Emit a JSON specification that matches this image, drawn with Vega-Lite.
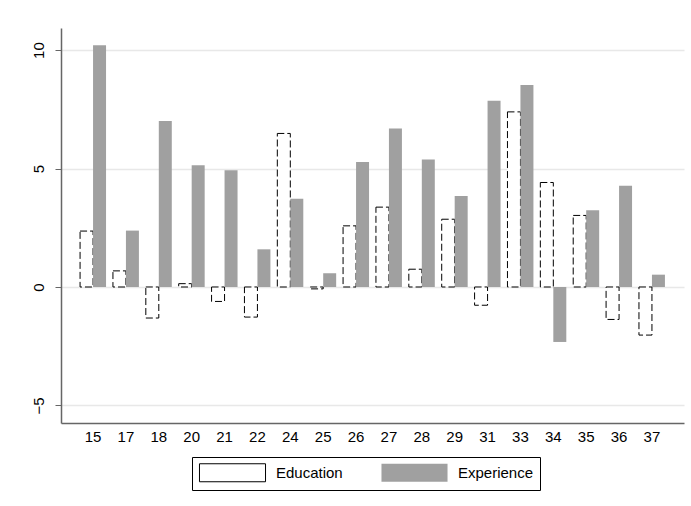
{
  "$schema": "https://vega.github.io/schema/vega-lite/v6.json",
  "width": 623,
  "height": 395,
  "autosize": {"type": "none"},
  "padding": {"left": 61, "top": 28, "right": 7, "bottom": 83},
  "background": "white",
  "config": {
    "font": "Liberation Sans",
    "view": {"stroke": null},
    "axis": {"labelFont": "Liberation Sans", "labelFontSize": 15, "labelColor": "black", "domainColor": "#666666", "tickColor": "#666666", "domainWidth": 1.5, "gridColor": "#e8e8e8", "gridWidth": 1.5, "title": null}
  },
  "data": {
    "values": [
      {"age": "15", "series": "Education", "value": 2.36},
      {"age": "15", "series": "Experience", "value": 10.2},
      {"age": "17", "series": "Education", "value": 0.68},
      {"age": "17", "series": "Experience", "value": 2.38},
      {"age": "18", "series": "Education", "value": -1.31},
      {"age": "18", "series": "Experience", "value": 7.0},
      {"age": "20", "series": "Education", "value": 0.14},
      {"age": "20", "series": "Experience", "value": 5.14},
      {"age": "21", "series": "Education", "value": -0.61},
      {"age": "21", "series": "Experience", "value": 4.93},
      {"age": "22", "series": "Education", "value": -1.27},
      {"age": "22", "series": "Experience", "value": 1.59},
      {"age": "24", "series": "Education", "value": 6.48},
      {"age": "24", "series": "Experience", "value": 3.72},
      {"age": "25", "series": "Education", "value": -0.08},
      {"age": "25", "series": "Experience", "value": 0.58},
      {"age": "26", "series": "Education", "value": 2.58},
      {"age": "26", "series": "Experience", "value": 5.28},
      {"age": "27", "series": "Education", "value": 3.37},
      {"age": "27", "series": "Experience", "value": 6.69},
      {"age": "28", "series": "Education", "value": 0.75},
      {"age": "28", "series": "Experience", "value": 5.38},
      {"age": "29", "series": "Education", "value": 2.86},
      {"age": "29", "series": "Experience", "value": 3.84},
      {"age": "31", "series": "Education", "value": -0.77},
      {"age": "31", "series": "Experience", "value": 7.86},
      {"age": "33", "series": "Education", "value": 7.39},
      {"age": "33", "series": "Experience", "value": 8.52},
      {"age": "34", "series": "Education", "value": 4.41},
      {"age": "34", "series": "Experience", "value": -2.32},
      {"age": "35", "series": "Education", "value": 3.02},
      {"age": "35", "series": "Experience", "value": 3.24},
      {"age": "36", "series": "Education", "value": -1.37},
      {"age": "36", "series": "Experience", "value": 4.27},
      {"age": "37", "series": "Education", "value": -2.03},
      {"age": "37", "series": "Experience", "value": 0.52}
    ]
  },
  "mark": {"type": "bar", "strokeWidth": 1, "opacity": 1},
  "encoding": {
    "x": {
      "field": "age", "type": "ordinal", "sort": null,
      "scale": {"paddingInner": 0.21, "paddingOuter": 0.58},
      "axis": {"labelAngle": 0, "ticks": false, "labelPadding": 6, "grid": false}
    },
    "xOffset": {"field": "series", "type": "nominal", "scale": {"paddingInner": 0, "paddingOuter": 0}},
    "y": {
      "field": "value", "type": "quantitative",
      "scale": {"domain": [-5.74, 10.93], "nice": false, "zero": false},
      "axis": {"values": [-5, 0, 5, 10], "labelAngle": -90, "labelAlign": "center", "labelBaseline": "bottom", "tickSize": 6, "labelPadding": 9, "grid": true}
    },
    "color": {
      "field": "series", "type": "nominal",
      "scale": {"domain": ["Education", "Experience"], "range": ["white", "#a0a0a0"]},
      "legend": {
        "title": null, "orient": "none", "legendX": 131, "legendY": 429, "direction": "horizontal",
        "strokeColor": "black", "padding": 6, "symbolType": "M-3.67,-1L3.67,-1L3.67,1L-3.67,1Z",
        "symbolSize": 324, "symbolStrokeWidth": 1, "symbolOffset": 25,
        "columnPadding": 36, "labelOffset": 34,
        "labelExpr": "datum.label === 'Experience' ? datum.label + '\u00a0\u00a0\u00a0' : datum.label",
        "labelFontSize": 15, "labelFont": "Liberation Sans", "labelColor": "black", "symbolOpacity": 1
      }
    },
    "stroke": {
      "field": "series", "type": "nominal",
      "scale": {"domain": ["Education", "Experience"], "range": ["black", "transparent"]}
    },
    "strokeDash": {
      "condition": {"test": "datum.series === 'Education'", "value": [7, 3]},
      "value": [1, 0]
    }
  }
}
